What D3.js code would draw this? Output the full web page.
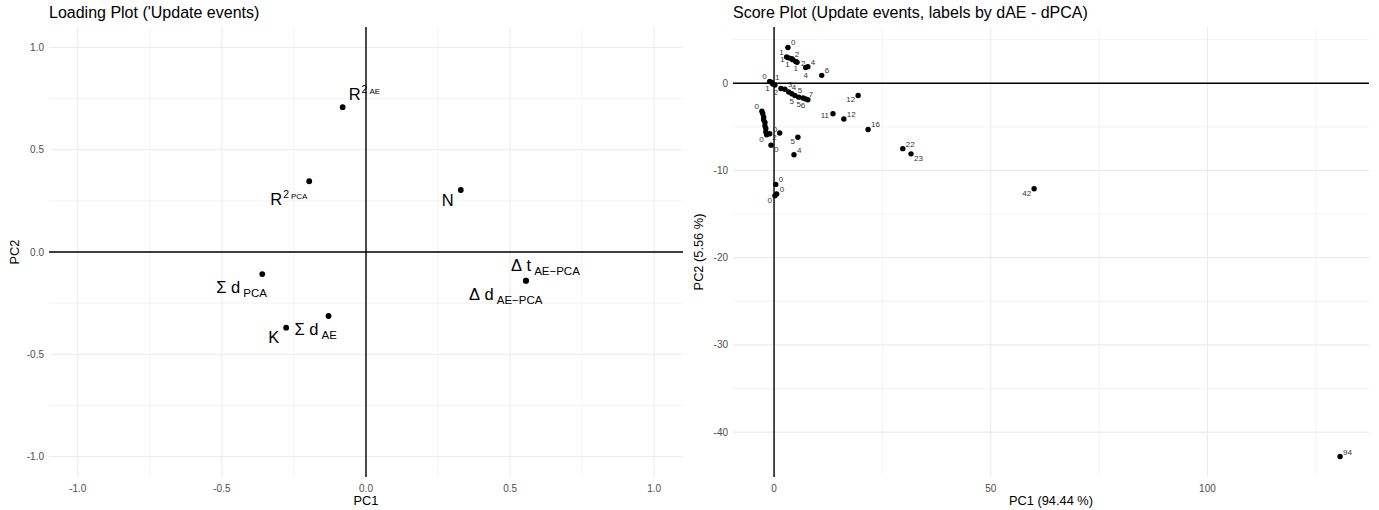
<!DOCTYPE html>
<html>
<head>
<meta charset="utf-8">
<script src="https://cdn.jsdelivr.net/npm/d3@7"></script>
<style>
body { margin: 0; background: #fff; }
svg { font-family: "Liberation Sans", Arial, sans-serif; }
</style>
</head>
<body>
<div id="chart"></div>
<script>
// ---- loading plot data ----
let loadVars = ["R2AE", "R2PCA", "N", "dtAE", "ddAE", "sdPCA", "sdAE", "K"]
let loadPC1 = [-0.081, -0.197, 0.329, 0.555, 0.555, -0.360, -0.130, -0.277]
let loadPC2 = [0.708, 0.346, 0.303, -0.140, -0.140, -0.108, -0.313, -0.370]
let loadTicks = [-1, -0.5, 0, 0.5, 1]
let loadMinor = [-0.75, -0.25, 0.25, 0.75]

// ---- score plot data (label = dAE - dPCA) ----
let scorePC1 = [3.2, 2.9, 3.4, 4.1, 4.3, 5.0, 5.3, 7.3, 7.8, 11.0,
    -1.0, -0.5, -0.3, 0.2, 1.6, 2.5, 3.4, 4.1, 4.8, 5.7, 6.7, 7.3, 7.8,
    19.4, 13.6, 16.1, 21.7, 29.7, 31.6, 60.0, 130.6,
    -2.8, -2.6, -2.4, -2.4, -2.1, -2.1, -1.9, -1.9, -1.7, -1.0, 1.3, -0.7,
    5.5, 4.6, 0.4, 0.6, 0.2]
let scorePC2 = [4.1, 3.0, 2.9, 2.8, 2.7, 2.5, 2.4, 1.8, 1.9, 0.9,
    0.2, 0.1, -0.1, -0.2, -0.6, -0.7, -1.0, -1.2, -1.4, -1.6, -1.7, -1.8, -1.9,
    -1.4, -3.5, -4.1, -5.3, -7.5, -8.1, -12.1, -42.8,
    -3.2, -3.5, -3.9, -4.2, -4.5, -4.9, -5.2, -5.6, -5.9, -5.8, -5.7, -7.1,
    -6.2, -8.2, -11.6, -12.7, -12.9]
let scoreLab = [0, 1, 1, 2, 1, 1, 2, 4, 4, 6,
    0, 1, 1, 1, 2, 3, 4, 5, 5, 5, 6, 7, 6,
    12, 11, 12, 16, 22, 23, 42, 94,
    0, 0, 0, 0, 0, 0, 0, 0, 0, 0, 2, 0,
    5, 4, 0, 0, 0]
let scoreXTicks = [0, 50, 100]
let scoreXMinor = [25, 75, 125]
let scoreYTicks = [0, -10, -20, -30, -40]
let scoreYMinor = [5, -5, -15, -25, -35]

// label pieces for the loading plot (plotmath style)
let loadLabelParts = {
    R2AE: [["R", "main"], ["2", "sup"], ["AE", "sub2"]],
    R2PCA: [["R", "main"], ["2", "sup"], ["PCA", "sub2"]],
    N: [["N", "main"]],
    dtAE: [["Δ", "main"], [" t", "main"], ["AE−PCA", "sub"]],
    ddAE: [["Δ", "main"], [" d", "main"], ["AE−PCA", "sub"]],
    sdPCA: [["Σ", "main"], [" d", "main"], ["PCA", "sub"]],
    sdAE: [["Σ", "main"], [" d", "main"], ["AE", "sub"]],
    K: [["K", "main"]]
}
// where each label sits relative to its point (px): text start / baseline
let loadLabelOffset = {
    R2AE: [6, -7], R2PCA: [-39, 24], N: [-19, 16], dtAE: [-15, -10],
    ddAE: [-57, 19], sdPCA: [-46, 19], sdAE: [-34, 19], K: [-18, 15]
}
let roleStyle = {
    main: { size: 16.5, dy: 0, dx: 0 },
    sup: { size: 10.5, dy: -7, dx: 1 },
    sub2: { size: 8, dy: -6, dx: 2 },
    sub: { size: 11.5, dy: 4, dx: 3 }
}
// score label placement (repel-ish), null = dropped
let scoreLabPos = ["ur", "ul", "l", "ur", "ll", "b", "r", "b", "ur", "ur",
    "ul", "ur", "ll", null, "ll", "ur", "ur", "b", "ur", "b", "b", "ur", null,
    "ll", "l", "ur", "ur", "ur", "lr", "ll", "ur",
    "ul", null, null, null, null, null, null, null, "ll", "ur", "ll", "lr",
    "ll", "ur", "ur", "ur", "ll"]
let posOff = {
    ur: [3, -2, "start"], ul: [-3, -2, "end"], ll: [-3, 7, "end"], lr: [3, 7, "start"],
    l: [-4, 4, "end"], r: [4, 4, "start"], b: [0, 10, "middle"]
}

let W = 1379, H = 510
let svg = d3.select("#chart").append("svg").attr("width", W).attr("height", H)

function expand(ext) {
    let r = ext[1] - ext[0]
    return [ext[0] - r * 0.05, ext[1] + r * 0.05]
}

function panel(opt) {
    let x = d3.scaleLinear().domain(opt.xdom).range([opt.left, opt.right])
    let y = d3.scaleLinear().domain(opt.ydom).range([opt.bottom, opt.top])
    let g = svg.append("g")

    // grid
    g.selectAll(".vmin").data(opt.xminor).join("line")
        .attr("x1", d => x(d)).attr("x2", d => x(d))
        .attr("y1", opt.top).attr("y2", opt.bottom)
        .attr("stroke", "#ebebeb").attr("stroke-width", 0.6)
    g.selectAll(".hmin").data(opt.yminor).join("line")
        .attr("y1", d => y(d)).attr("y2", d => y(d))
        .attr("x1", opt.left).attr("x2", opt.right)
        .attr("stroke", "#ebebeb").attr("stroke-width", 0.6)
    g.selectAll(".vmaj").data(opt.xticks).join("line")
        .attr("x1", d => x(d)).attr("x2", d => x(d))
        .attr("y1", opt.top).attr("y2", opt.bottom)
        .attr("stroke", "#ebebeb").attr("stroke-width", 1.1)
    g.selectAll(".hmaj").data(opt.yticks).join("line")
        .attr("y1", d => y(d)).attr("y2", d => y(d))
        .attr("x1", opt.left).attr("x2", opt.right)
        .attr("stroke", "#ebebeb").attr("stroke-width", 1.1)

    // zero lines
    g.append("line").attr("x1", opt.left).attr("x2", opt.right)
        .attr("y1", y(0)).attr("y2", y(0)).attr("stroke", "#000").attr("stroke-width", 1.4)
    g.append("line").attr("y1", opt.top).attr("y2", opt.bottom)
        .attr("x1", x(0)).attr("x2", x(0)).attr("stroke", "#000").attr("stroke-width", 1.4)

    // tick labels
    g.selectAll(".xt").data(opt.xticks).join("text")
        .attr("x", d => x(d)).attr("y", opt.bottom + 15)
        .attr("text-anchor", "middle").attr("font-size", 10).attr("fill", "#4d4d4d")
        .text(opt.fmt)
    g.selectAll(".yt").data(opt.yticks).join("text")
        .attr("x", opt.left - 5).attr("y", d => y(d) + 3.5)
        .attr("text-anchor", "end").attr("font-size", 10).attr("fill", "#4d4d4d")
        .text(opt.fmt)

    // titles
    g.append("text").attr("x", opt.left).attr("y", 18)
        .attr("font-size", 16).attr("fill", "#000").text(opt.title)
    g.append("text").attr("x", (opt.left + opt.right) / 2).attr("y", 505)
        .attr("text-anchor", "middle").attr("font-size", 12.8).text(opt.xlab)
    g.append("text")
        .attr("transform", `translate(${opt.left - 30},${(opt.top + opt.bottom) / 2}) rotate(-90)`)
        .attr("text-anchor", "middle").attr("font-size", 12.8).text(opt.ylab)
    return { g, x, y }
}

// ---- left: loading plot ----
let L = panel({
    left: 49, right: 683, top: 27, bottom: 477,
    xdom: [-1.1, 1.1], ydom: [-1.1, 1.1],
    xticks: loadTicks, yticks: loadTicks, xminor: loadMinor, yminor: loadMinor,
    fmt: d => d3.format(".1f")(d).replace("−", "-"),
    title: "Loading Plot ('Update events)", xlab: "PC1", ylab: "PC2"
})
L.g.selectAll(".pt").data(loadVars).join("circle")
    .attr("cx", (d, i) => L.x(loadPC1[i])).attr("cy", (d, i) => L.y(loadPC2[i]))
    .attr("r", 2.9).attr("fill", "#000")
loadVars.forEach((v, i) => {
    let px = L.x(loadPC1[i]), py = L.y(loadPC2[i])
    let off = loadLabelOffset[v]
    let base = py + off[1]
    let t = L.g.append("text").attr("x", px + off[0]).attr("y", base).attr("fill", "#000")
    loadLabelParts[v].forEach(p => {
        let s = roleStyle[p[1]]
        t.append("tspan").attr("y", base + s.dy).attr("dx", s.dx)
            .attr("font-size", s.size).text(p[0])
    })
})

// ---- right: score plot ----
let S = panel({
    left: 733, right: 1369, top: 27, bottom: 477,
    xdom: expand(d3.extent(scorePC1)), ydom: expand(d3.extent(scorePC2)),
    xticks: scoreXTicks, yticks: scoreYTicks, xminor: scoreXMinor, yminor: scoreYMinor,
    fmt: d => String(d),
    title: "Score Plot (Update events, labels by dAE - dPCA)",
    xlab: "PC1 (94.44 %)", ylab: "PC2 (5.56 %)"
})
S.g.selectAll(".pt").data(scorePC1).join("circle")
    .attr("cx", d => S.x(d)).attr("cy", (d, i) => S.y(scorePC2[i]))
    .attr("r", 2.7).attr("fill", "#000")
// only labels that the repel step kept
let shown = d3.range(scoreLab.length).filter(i => scoreLabPos[i] != null)
S.g.selectAll(".lab").data(shown).join("text")
    .attr("x", i => S.x(scorePC1[i]) + posOff[scoreLabPos[i]][0])
    .attr("y", i => S.y(scorePC2[i]) + posOff[scoreLabPos[i]][1])
    .attr("text-anchor", i => posOff[scoreLabPos[i]][2])
    .attr("font-size", 8).attr("fill", "#333")
    .text(i => scoreLab[i])
</script>
</body>
</html>
